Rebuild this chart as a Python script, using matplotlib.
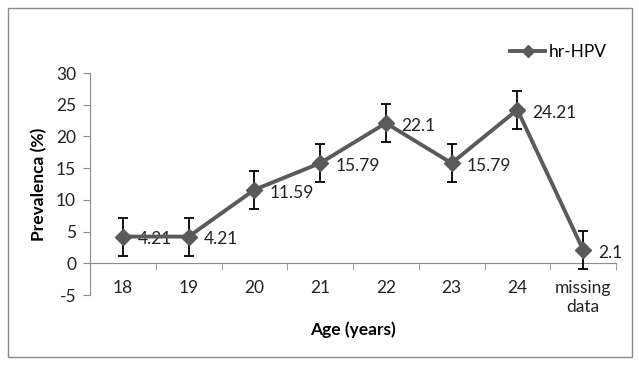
import numpy as np
import matplotlib.pyplot as plt
from matplotlib.patches import Rectangle
from matplotlib.lines import Line2D

# data
ages = ["18", "19", "20", "21", "22", "23", "24", "missing\ndata"]
prevalence = [4.21, 4.21, 11.59, 15.79, 22.1, 15.79, 24.21, 2.1]
err = [3, 3, 3, 3, 3, 3, 3, 3]
labels = ["4.21", "4.21", "11.59", "15.79", "22.1", "15.79", "24.21", "2.1"]
yticks = [-5, 0, 5, 10, 15, 20, 25, 30]

plt.rcParams["font.family"] = ["Lato", "DejaVu Sans"]
fs = 12.5

fig = plt.figure(figsize=(6.39, 3.66), dpi=100)
fig.patches.append(Rectangle((8 / 639, 1 - 357 / 366), 624 / 639, 349 / 366,
                             transform=fig.transFigure, fill=False,
                             edgecolor="#8c8c8c", linewidth=1))

ax = fig.add_axes([90 / 639, 1 - 295 / 366, 526 / 639, 222 / 366])
x = np.arange(len(ages))
line_col = "#5a5a5a"
ax.errorbar(x, prevalence, yerr=err, color=line_col, linewidth=2.8,
            marker="D", markersize=8, ecolor="black", elinewidth=1.3,
            capsize=3.5, capthick=1.3, zorder=3)

for xi, yi, t in zip(x, prevalence, labels):
    ax.annotate(t, (xi, yi), xytext=(11, -2), textcoords="offset points",
                ha="left", va="center", fontsize=fs, color="#222222")

ax.set_xlim(-0.5, len(ages) - 0.5)
ax.set_ylim(-5, 30)
ax.set_yticks(yticks)
ax.set_yticklabels([str(v) for v in yticks])
ax.set_xticks(x)
ax.set_xticks(np.arange(len(ages) + 1) - 0.5, minor=True)
ax.tick_params(axis="x", which="major", length=0, pad=12, labelsize=fs,
               labelcolor="#222222")
ax.tick_params(axis="x", which="minor", length=5, color="#8c8c8c", direction="out")
ax.tick_params(axis="y", length=5, color="#8c8c8c", labelsize=fs,
               labelcolor="#222222", pad=5)
ax.set_xticklabels(ages, fontsize=fs, linespacing=1.1)

for s in ["top", "right"]:
    ax.spines[s].set_visible(False)
ax.spines["bottom"].set_position(("data", 0))
ax.spines["bottom"].set_color("#8c8c8c")
ax.spines["left"].set_color("#8c8c8c")
ax.patch.set_alpha(0)

ax.set_ylabel("Prevalenca (%)", fontsize=fs, fontweight="bold", labelpad=6)
fig.text(353 / 639, 1 - 330 / 366, "Age (years)", ha="center", va="center",
         fontsize=fs, fontweight="bold")

handle = Line2D([], [], color=line_col, linewidth=2.8, marker="D", markersize=6)
ax.legend([handle], ["hr-HPV"], loc="upper right",
          bbox_to_anchor=(622 / 639, 1 - 28 / 366),
          bbox_transform=fig.transFigure, frameon=False, fontsize=fs,
          handlelength=2.0, handletextpad=0.2, numpoints=1)

fig.savefig("out.png", dpi=100)
